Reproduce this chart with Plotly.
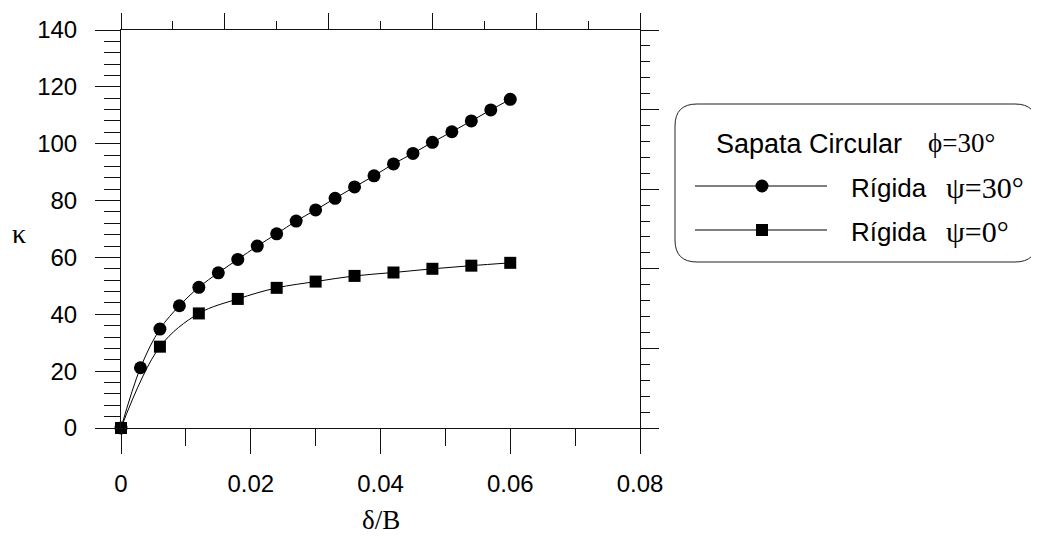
import plotly.graph_objects as go

# ---- data ----
x_psi30 = [0, 0.003, 0.006, 0.009, 0.012, 0.015, 0.018, 0.021, 0.024, 0.027, 0.030,
           0.033, 0.036, 0.039, 0.042, 0.045, 0.048, 0.051, 0.054, 0.057, 0.060]
k_psi30 = [0, 21.2, 34.8, 43.0, 49.5, 54.6, 59.3, 64.0, 68.3, 72.8, 76.7,
           80.8, 84.8, 88.7, 92.9, 96.6, 100.5, 104.2, 108.0, 111.9, 115.6]
x_psi0 = [0, 0.006, 0.012, 0.018, 0.024, 0.030, 0.036, 0.042, 0.048, 0.054, 0.060]
k_psi0 = [0, 28.6, 40.3, 45.4, 49.3, 51.5, 53.5, 54.7, 56.0, 57.1, 58.1]
x_ticks = [0, 0.02, 0.04, 0.06, 0.08]
x_ticktext = ["0", "0.02", "0.04", "0.06", "0.08"]
y_ticks = [0, 20, 40, 60, 80, 100, 120, 140]

# page body has an 8px margin: figure is sized to fill the rest of the window
OFF = 8
W, H = 1039 - OFF, 536 - OFF
L, R, T, B = 121, 640, 30, 428          # plot area in screen pixels

def px(x):
    return (x - L) / (R - L)

def py(y):
    return (B - y) / (B - T)

SANS = "Liberation Sans, Arial, sans-serif"
SERIF = "Liberation Serif, Times New Roman, serif"
AX = "#111111"

fig = go.Figure()
fig.add_trace(go.Scatter(x=x_psi30, y=k_psi30, mode="lines+markers", cliponaxis=False,
                         line=dict(color="black", width=1, shape="spline"),
                         marker=dict(symbol="circle", size=13, color="black"),
                         showlegend=False))
fig.add_trace(go.Scatter(x=x_psi0, y=k_psi0, mode="lines+markers", cliponaxis=False,
                         line=dict(color="black", width=1, shape="spline"),
                         marker=dict(symbol="square", size=12, color="black"),
                         showlegend=False))
# dummy trace to activate top/right frame axes
fig.add_trace(go.Scatter(x=[None], y=[None], xaxis="x2", yaxis="y2", showlegend=False,
                         hoverinfo="skip"))

fig.update_layout(
    width=W, height=H,
    margin=dict(l=L - OFF, r=W - (R - OFF), t=T - OFF, b=H - (B - OFF), pad=0,
                autoexpand=False),
    plot_bgcolor="white", paper_bgcolor="white",
    font=dict(family=SANS, size=24, color="black"),
    xaxis=dict(range=[0, 0.08], tickvals=x_ticks, ticktext=x_ticktext,
               ticks="outside", ticklen=25, tickwidth=1, tickcolor=AX,
               minor=dict(tick0=0, dtick=0.01, ticks="outside", ticklen=17, tickcolor=AX),
               showline=True, linecolor=AX, linewidth=1, mirror=False, automargin=False,
               showgrid=False, zeroline=False, ticklabelstandoff=9,
               tickfont=dict(size=24, family=SANS)),
    yaxis=dict(range=[0, 140], tickvals=y_ticks, automargin=False,
               ticks="outside", ticklen=25, tickwidth=1, tickcolor=AX,
               minor=dict(tick0=0, dtick=4, ticks="outside", ticklen=16, tickcolor=AX),
               showline=True, linecolor=AX, linewidth=1,
               showgrid=False, zeroline=False, ticklabelstandoff=13,
               tickfont=dict(size=24, family=SANS)),
    xaxis2=dict(overlaying="x", side="top", range=[0, 5], tickvals=[0, 1, 2, 3, 4, 5],
                ticks="outside", ticklen=16, tickcolor=AX, automargin=False,
                minor=dict(tick0=0, dtick=0.5, ticks="outside", ticklen=8, tickcolor=AX),
                showticklabels=False, showline=True, linecolor=AX, showgrid=False,
                zeroline=False),
    yaxis2=dict(overlaying="y", side="right", range=[0, 5], tickvals=[0, 1, 2, 3, 4, 5],
                ticks="outside", ticklen=18, tickcolor=AX, automargin=False,
                minor=dict(tick0=0, dtick=0.2, ticks="outside", ticklen=9, tickcolor=AX),
                showticklabels=False, showline=True, linecolor=AX, showgrid=False,
                zeroline=False),
)

# axis titles
fig.add_annotation(text="κ", xref="paper", yref="paper", x=px(10), y=py(233),
                   xanchor="left", yanchor="middle",
                   showarrow=False, font=dict(family=SERIF, size=28))
fig.add_annotation(text="δ/B", xref="paper", yref="paper", x=px(381), y=py(537),
                   xanchor="center", yanchor="bottom",
                   showarrow=False, font=dict(family=SERIF, size=27))

# legend box with rounded corners
x0, x1, y0, y1, r = 675, 1037, 104, 262, 22
path = (f"M {px(x0 + r)},{py(y0)} L {px(x1 - r)},{py(y0)} "
        f"Q {px(x1)},{py(y0)} {px(x1)},{py(y0 + r)} "
        f"L {px(x1)},{py(y1 - r)} Q {px(x1)},{py(y1)} {px(x1 - r)},{py(y1)} "
        f"L {px(x0 + r)},{py(y1)} Q {px(x0)},{py(y1)} {px(x0)},{py(y1 - r)} "
        f"L {px(x0)},{py(y0 + r)} Q {px(x0)},{py(y0)} {px(x0 + r)},{py(y0)} Z")
fig.add_shape(type="path", path=path, xref="paper", yref="paper",
              line=dict(color="#222222", width=1))

rows = [(186, "circle", "ψ=30°"), (230, "square", "ψ=0°")]
for yy, sym, lab in rows:
    fig.add_shape(type="line", xref="paper", yref="paper",
                  x0=px(695), x1=px(827), y0=py(yy), y1=py(yy),
                  line=dict(color="black", width=1))
    if sym == "circle":
        fig.add_shape(type="circle", xref="paper", yref="paper",
                      x0=px(762 - 6.5), x1=px(762 + 6.5), y0=py(yy - 6.5), y1=py(yy + 6.5),
                      fillcolor="black", line=dict(color="black", width=0))
    else:
        fig.add_shape(type="rect", xref="paper", yref="paper",
                      x0=px(762 - 6), x1=px(762 + 6), y0=py(yy - 6), y1=py(yy + 6),
                      fillcolor="black", line=dict(color="black", width=0))
    fig.add_annotation(text="Rígida", xref="paper", yref="paper", x=px(849), y=py(yy + 2),
                       xanchor="left", yanchor="middle", showarrow=False,
                       font=dict(family=SANS, size=26))
    fig.add_annotation(text=lab, xref="paper", yref="paper", x=px(944), y=py(yy + 1),
                       xanchor="left", yanchor="middle", showarrow=False,
                       font=dict(family=SERIF, size=30))

fig.add_annotation(text="Sapata Circular", xref="paper", yref="paper", x=px(714), y=py(144),
                   xanchor="left", yanchor="middle", showarrow=False,
                   font=dict(family=SANS, size=27))
fig.add_annotation(text="ϕ=30°", xref="paper", yref="paper", x=px(926), y=py(143),
                   xanchor="left", yanchor="middle", showarrow=False,
                   font=dict(family=SERIF, size=27))

fig.write_html("out.html")
